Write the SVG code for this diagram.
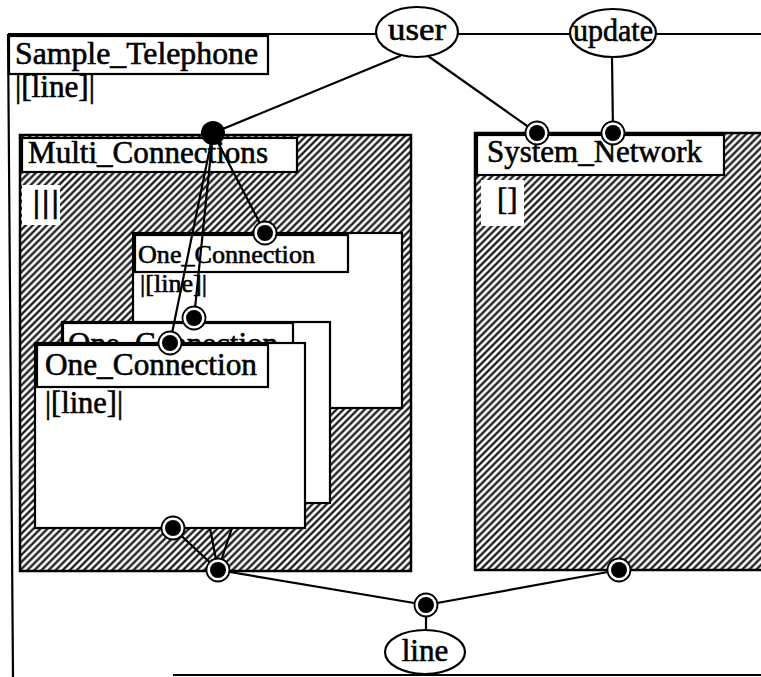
<svg xmlns="http://www.w3.org/2000/svg" width="761" height="677" viewBox="0 0 761 677">
  <defs>
    <!-- diagonal "/" hatching used for the container interiors -->
    <pattern id="hatch" patternUnits="userSpaceOnUse" width="5" height="5" patternTransform="rotate(45)">
      <rect width="5" height="5" fill="#fff"/>
      <line x1="2.5" y1="0" x2="2.5" y2="5" stroke="#000" stroke-width="2.1"/>
    </pattern>
    <g id="port">
      <circle r="11.5" fill="#fff" stroke="#000" stroke-width="1.8"/>
      <circle r="8" fill="#000"/>
    </g>
    <g id="portSolid">
      <circle r="12" fill="#000"/>
    </g>
  </defs>
  <style>
    .lbl { font-family: "Liberation Serif", "Times New Roman", serif; font-size: 31px; fill: #000; stroke: #000; stroke-width: 0.6; }
    .sm { font-size: 26px; }
    .box { fill: #fff; stroke: #000; stroke-width: 2.2; }
    .hbox { fill: url(#hatch); stroke: #000; stroke-width: 2.5; }
    .tag { fill: #fff; stroke: #000; stroke-width: 2.2; }
    .edge { fill: none; stroke: #000; stroke-width: 2.2; }
    .wire { fill: none; stroke: #000; stroke-width: 2.2; stroke-linecap: round; }
    .oval { fill: #fff; stroke: #000; stroke-width: 2.2; }
  </style>

  <rect width="761" height="677" fill="#fff"/>

  <!-- outermost container -->
  <g id="sample_telephone">
    <path class="edge" d="M8,34 L13,677"/>
    <path class="edge" d="M8,34 H761"/>
    <path class="edge" d="M173,675 H761"/>
    <rect class="tag" x="9" y="36" width="259" height="38"/>
    <text class="lbl" x="15" y="64" textLength="243" lengthAdjust="spacingAndGlyphs">Sample_Telephone</text>
    <text class="lbl" x="15" y="97" textLength="80" lengthAdjust="spacingAndGlyphs">|[line]|</text>
  </g>

  <!-- interface ovals on the outer border -->
  <g id="user">
    <ellipse class="oval" cx="417" cy="32" rx="41" ry="25"/>
    <text class="lbl" x="417" y="40" text-anchor="middle" textLength="58" lengthAdjust="spacingAndGlyphs">user</text>
  </g>
  <g id="update">
    <ellipse class="oval" cx="613" cy="33" rx="43" ry="24"/>
    <text class="lbl" x="613" y="41" text-anchor="middle" textLength="80" lengthAdjust="spacingAndGlyphs">update</text>
  </g>
  <g id="line">
    <ellipse class="oval" cx="425" cy="652" rx="40" ry="22"/>
    <text class="lbl" x="425" y="661" text-anchor="middle">line</text>
  </g>

  <!-- Multi_Connections container -->
  <g id="multi_connections">
    <rect class="hbox" x="20" y="135" width="391" height="436"/>
    <rect class="tag" x="22" y="138" width="275" height="34"/>
    <text class="lbl" x="28" y="163" textLength="240" lengthAdjust="spacingAndGlyphs">Multi_Connections</text>
    <rect x="22" y="185" width="38" height="40" fill="#fff"/>
    <text class="lbl" x="33" y="212" font-size="24" font-weight="bold" letter-spacing="2.5">|||</text>
  </g>

  <!-- System_Network container -->
  <g id="system_network">
    <rect class="hbox" x="475" y="133" width="300" height="437"/>
    <rect class="tag" x="477" y="135" width="247" height="40"/>
    <text class="lbl" x="487" y="162" textLength="215" lengthAdjust="spacingAndGlyphs">System_Network</text>
    <rect x="481" y="180" width="43" height="46" fill="#fff"/>
    <text class="lbl" x="497" y="210" font-size="28">[]</text>
  </g>

  <!-- stacked One_Connection instances, back to front -->
  <g id="one_connection_3">
    <rect class="box" x="133" y="233" width="269" height="175"/>
    <rect class="tag" x="135" y="235" width="213" height="37"/>
    <text class="lbl sm" x="138" y="263" textLength="177" lengthAdjust="spacingAndGlyphs">One_Connection</text>
    <text class="lbl sm" x="140" y="292" textLength="67" lengthAdjust="spacingAndGlyphs">|[line]|</text>
  </g>
  <g id="one_connection_2">
    <rect class="box" x="62" y="322" width="268" height="181"/>
    <rect class="tag" x="63" y="323" width="230" height="40"/>
    <text class="lbl" x="68" y="354" textLength="210" lengthAdjust="spacingAndGlyphs">One_Connection</text>
  </g>

  <!-- links from the lower instances; only the part below the front box shows -->
  <g id="hidden-links">
    <path class="wire" d="M218,570 L210,528"/>
    <path class="wire" d="M218,570 L232,528"/>
  </g>

  <g id="one_connection_1">
    <rect class="box" x="35" y="343" width="270" height="185"/>
    <rect class="tag" x="37" y="345" width="231" height="42"/>
    <text class="lbl" x="45" y="375" textLength="212" lengthAdjust="spacingAndGlyphs">One_Connection</text>
    <text class="lbl" x="45" y="413" textLength="78" lengthAdjust="spacingAndGlyphs">|[line]|</text>
  </g>

  <!-- connectors -->
  <g id="connectors">
    <path class="wire" d="M400,56 L213,133"/>
    <path class="wire" d="M428,56 L537,133"/>
    <path class="wire" d="M612,57 L613,133"/>
    <path class="wire" d="M213,133 L265,233"/>
    <path class="wire" d="M213,133 L194,318"/>
    <path class="wire" d="M213,133 L170,343"/>
    <path class="wire" d="M173,528 L218,570"/>
    <path class="wire" d="M218,570 L426,605 L619,570"/>
    <path class="wire" d="M426,605 V630"/>
  </g>

  <!-- ports -->
  <g id="ports">
    <use href="#portSolid" x="213" y="133"/>
    <use href="#port" x="537" y="133"/>
    <use href="#port" x="613" y="133"/>
    <use href="#port" x="265" y="233"/>
    <use href="#port" x="194" y="318"/>
    <use href="#port" x="170" y="343"/>
    <use href="#port" x="173" y="528"/>
    <use href="#port" x="218" y="570"/>
    <use href="#port" x="619" y="570"/>
    <use href="#port" x="426" y="605"/>
  </g>
</svg>
